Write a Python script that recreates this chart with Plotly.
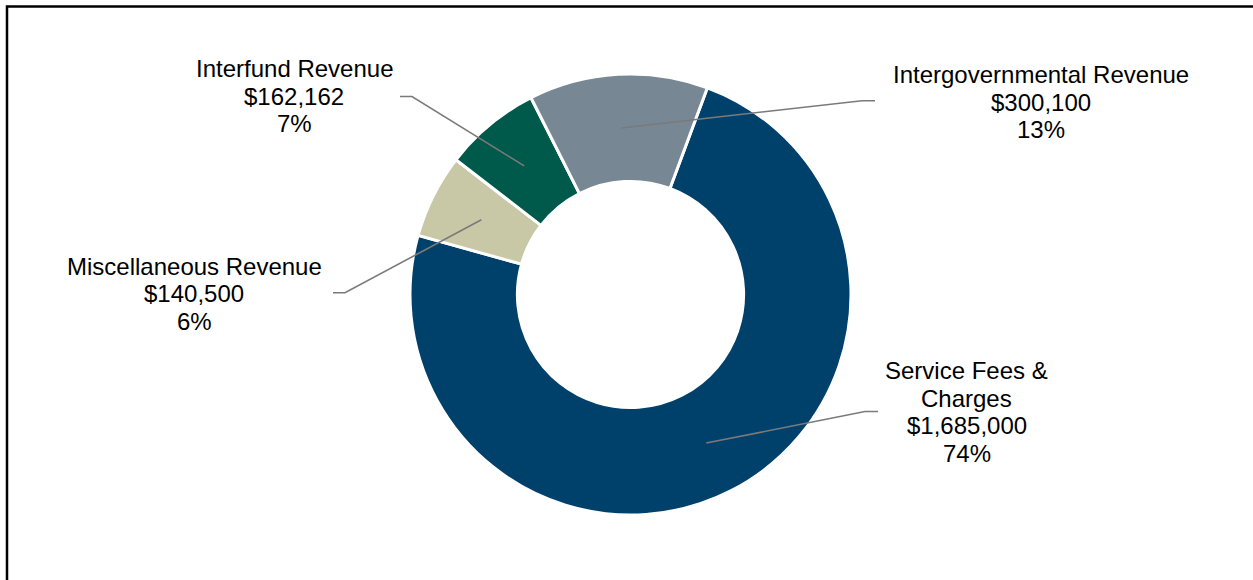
import math
import plotly.graph_objects as go

# ---- data ----
categories = ["Service Fees & Charges", "Miscellaneous Revenue", "Interfund Revenue", "Intergovernmental Revenue"]
label_lines = [["Service Fees &", "Charges"], ["Miscellaneous Revenue"], ["Interfund Revenue"], ["Intergovernmental Revenue"]]
values = [1685000, 140500, 162162, 300100]
colors = ["#00416B", "#C9C8A6", "#005A4B", "#778794"]

# ---- layout constants (screen pixels) ----
W, H = 1253, 580
CX, CY, R = 630.5, 294.5, 220.5
HOLE = 0.513
ROT = 20.4
FONT = "Liberation Sans, Arial, sans-serif"
FS = 24
LINE_H = 27.5

label_pos = [(966.5, 370.5), (194, 266), (294, 68.5), (1041, 74.5)]
bend_pts = [(865, 411.5), (345, 292.7), (412, 96.5), (862, 100.7)]
elbow_end = [(878, 411.5), (333, 292.7), (400, 96.5), (875, 100.7)]

total = sum(values)
pcts = [v / total for v in values]

fig = go.Figure()
fig.add_trace(go.Pie(
    labels=categories, values=values, sort=False, direction="clockwise",
    rotation=ROT, hole=HOLE, textinfo="none", hoverinfo="label+value+percent",
    marker=dict(colors=colors, line=dict(color="white", width=3)),
    domain=dict(x=[(CX - R) / W, (CX + R) / W],
                y=[(H - CY - R) / H, (H - CY + R) / H]),
    showlegend=False,
))

rmid = (R + R * HOLE) / 2
cum = 0.0
annotations = []
shapes = [dict(type="path", xref="x", yref="y", layer="above",
               path=f"M 7,{H + 10} L 7,6.5 L {W + 10},6.5",
               line=dict(color="black", width=2.5))]
for i, v in enumerate(values):
    mid = math.radians(ROT + 360 * (cum + pcts[i] / 2))
    cum += pcts[i]
    sx = CX + rmid * math.sin(mid)
    sy = CY - rmid * math.cos(mid)
    bx, by = bend_pts[i]
    ex, ey = elbow_end[i]
    shapes.append(dict(type="path", xref="x", yref="y", layer="above",
                       path=f"M {sx:.2f},{sy:.2f} L {bx},{by} L {ex},{ey}",
                       line=dict(color="#7A7A7A", width=1.6)))
    lines = label_lines[i] + [f"${v:,.0f}", f"{round(pcts[i] * 100):.0f}%"]
    lx, ly = label_pos[i]
    for j, t in enumerate(lines):
        annotations.append(dict(
            x=lx, y=ly + j * LINE_H, xref="x", yref="y", text=t, showarrow=False,
            xanchor="center", yanchor="middle", font=dict(family=FONT, size=FS, color="#000000"),
        ))

fig.update_layout(
    width=W, height=H, margin=dict(l=0, r=0, t=0, b=0),
    paper_bgcolor="white", plot_bgcolor="rgba(0,0,0,0)",
    xaxis=dict(range=[0, W], visible=False, domain=[0, 1], fixedrange=True),
    yaxis=dict(range=[H, 0], visible=False, domain=[0, 1], fixedrange=True),
    annotations=annotations,
    shapes=shapes,
)

fig.write_html("out.html", config={"displayModeBar": False},
               post_script="document.body.style.margin='0';document.body.style.overflow='hidden';")
